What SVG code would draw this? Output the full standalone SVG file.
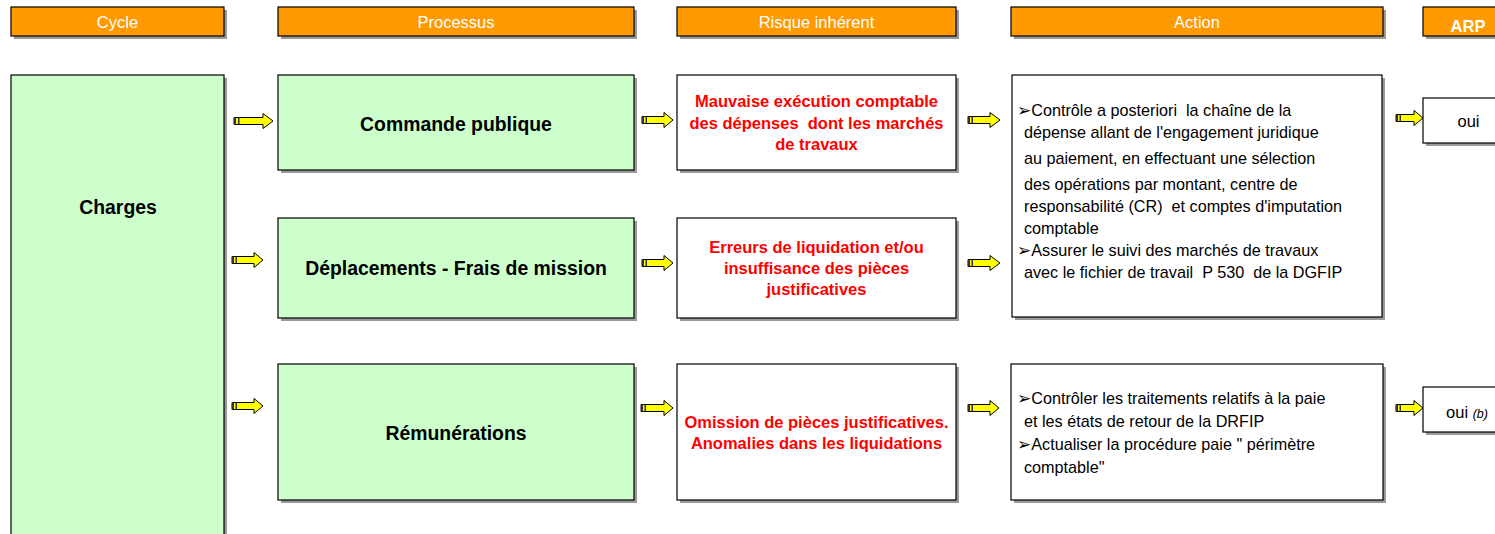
<svg xmlns="http://www.w3.org/2000/svg" width="1495" height="534" viewBox="0 0 1495 534">
<defs>
<style>
.sh{fill:#9a9a9a}
.hdr{fill:#FF9900;stroke:#000;stroke-width:1.2}
.grn{fill:#CCFFCC;stroke:#000;stroke-width:1.2}
.wht{fill:#FFFFFF;stroke:#000;stroke-width:1.2}
.ht{font-family:"Liberation Sans",Arial,sans-serif;font-size:16.5px;fill:#FFFFFF;text-anchor:middle}
.pt{font-family:"Liberation Sans",Arial,sans-serif;font-size:19.4px;font-weight:bold;fill:#000;text-anchor:middle}
.rt{font-family:"Liberation Sans",Arial,sans-serif;font-size:16.5px;font-weight:bold;fill:#FF0000;text-anchor:middle}
.at{font-family:"Liberation Sans","DejaVu Sans",Arial,sans-serif;font-size:16.2px;fill:#000}
.bl{font-family:"DejaVu Sans",sans-serif;font-size:17px}
.ot{font-family:"Liberation Sans",Arial,sans-serif;font-size:16.5px;fill:#000;text-anchor:middle}
.arr{fill:#FFFF00;stroke:#000;stroke-width:1}
.tail{fill:#333}
</style>
</defs>

<g id="header-cycle">
<rect class="sh" x="14" y="10" width="213" height="29"/>
<rect class="hdr" x="11" y="7" width="213" height="29"/>
<text class="ht" x="117.5" y="28">Cycle</text>
</g>
<g id="header-processus">
<rect class="sh" x="281" y="10" width="356" height="29"/>
<rect class="hdr" x="278" y="7" width="356" height="29"/>
<text class="ht" x="456" y="28">Processus</text>
</g>
<g id="header-risque">
<rect class="sh" x="680" y="10" width="279" height="29"/>
<rect class="hdr" x="677" y="7" width="279" height="29"/>
<text class="ht" x="816.5" y="28">Risque inhérent</text>
</g>
<g id="header-action">
<rect class="sh" x="1014" y="10" width="372" height="29"/>
<rect class="hdr" x="1011" y="7" width="372" height="29"/>
<text class="ht" x="1197" y="28">Action</text>
</g>
<g id="header-arp">
<rect class="sh" x="1426" y="10" width="100" height="29"/>
<rect class="hdr" x="1423" y="7" width="100" height="29"/>
<text class="ht" x="1468" y="32" font-weight="bold" font-size="15px">ARP</text>
</g>

<g id="node-charges">
<rect class="sh" x="14" y="78" width="213" height="470"/>
<rect class="grn" x="11" y="75" width="213" height="470"/>
<text class="pt" x="118" y="214">Charges</text>
</g>

<g id="node-commande">
<rect class="sh" x="281" y="78" width="356" height="95"/>
<rect class="grn" x="278" y="75" width="356" height="95"/>
<text class="pt" x="456" y="131">Commande publique</text>
</g>
<g id="node-deplacements">
<rect class="sh" x="281" y="221" width="356" height="100"/>
<rect class="grn" x="278" y="218" width="356" height="100"/>
<text class="pt" x="456" y="275">Déplacements - Frais de mission</text>
</g>
<g id="node-remunerations">
<rect class="sh" x="281" y="367" width="356" height="136"/>
<rect class="grn" x="278" y="364" width="356" height="136"/>
<text class="pt" x="456" y="440">Rémunérations</text>
</g>

<g id="risk-1">
<rect class="sh" x="680" y="78" width="279" height="95"/>
<rect class="wht" x="677" y="75" width="279" height="95"/>
<text class="rt" x="816.5" y="107">Mauvaise exécution comptable</text>
<text class="rt" x="816.5" y="128.5" xml:space="preserve">des dépenses  dont les marchés</text>
<text class="rt" x="816.5" y="150">de travaux</text>
</g>
<g id="risk-2">
<rect class="sh" x="680" y="221" width="279" height="100"/>
<rect class="wht" x="677" y="218" width="279" height="100"/>
<text class="rt" x="816.5" y="253">Erreurs de liquidation et/ou</text>
<text class="rt" x="816.5" y="274">insuffisance des pièces</text>
<text class="rt" x="816.5" y="295">justificatives</text>
</g>
<g id="risk-3">
<rect class="sh" x="680" y="367" width="279" height="136"/>
<rect class="wht" x="677" y="364" width="279" height="136"/>
<text class="rt" x="816.5" y="428">Omission de pièces justificatives.</text>
<text class="rt" x="816.5" y="449">Anomalies dans les liquidations</text>
</g>

<g id="action-1">
<rect class="sh" x="1015" y="78" width="370" height="242"/>
<rect class="wht" x="1012" y="75" width="370" height="242"/>
<text class="at" xml:space="preserve" x="1017" y="116"><tspan class="bl">➢</tspan>Contrôle a posteriori  la chaîne de la</text>
<text class="at" x="1024" y="138">dépense allant de l'engagement juridique</text>
<text class="at" x="1024" y="164">au paiement, en effectuant une sélection</text>
<text class="at" x="1024" y="190">des opérations par montant, centre de</text>
<text class="at" xml:space="preserve" x="1024" y="212">responsabilité (CR)  et comptes d'imputation</text>
<text class="at" x="1024" y="234">comptable</text>
<text class="at" x="1017" y="256"><tspan class="bl">➢</tspan>Assurer le suivi des marchés de travaux</text>
<text class="at" xml:space="preserve" x="1024" y="278">avec le fichier de travail  P 530  de la DGFIP</text>
</g>
<g id="action-2">
<rect class="sh" x="1014" y="367" width="372" height="136"/>
<rect class="wht" x="1011" y="364" width="372" height="136"/>
<text class="at" x="1017" y="404"><tspan class="bl">➢</tspan>Contrôler les traitements relatifs à la paie</text>
<text class="at" x="1024" y="427">et les états de retour de la DRFIP</text>
<text class="at" x="1017" y="450"><tspan class="bl">➢</tspan>Actualiser la procédure paie " périmètre</text>
<text class="at" x="1024" y="473">comptable"</text>
</g>

<g id="arp-1">
<rect class="sh" x="1426" y="101" width="100" height="45"/>
<rect class="wht" x="1423" y="98" width="100" height="45"/>
<text class="ot" x="1468.5" y="127">oui</text>
</g>
<g id="arp-2">
<rect class="sh" x="1426" y="390" width="100" height="45"/>
<rect class="wht" x="1423" y="387" width="100" height="45"/>
<text class="ot" x="1467" y="418">oui <tspan font-style="italic" font-size="12.5px">(b)</tspan></text>
</g>

<g id="connectors">
<path class="arr" d="M234,117.5 H263 V113.5 L273,121 L263,128.5 V124.5 H234 Z"/>
<rect class="tail" x="234" y="117.5" width="2" height="7"/><rect class="tail" x="238" y="117.5" width="1.5" height="7"/>

<path class="arr" d="M232,256.5 H254 V252.5 L263,260 L254,267.5 V263.5 H232 Z"/>
<rect class="tail" x="232" y="256.5" width="2" height="7"/><rect class="tail" x="235.5" y="256.5" width="1.5" height="7"/>

<path class="arr" d="M232,402.5 H254 V398.5 L263,406 L254,413.5 V409.5 H232 Z"/>
<rect class="tail" x="232" y="402.5" width="2" height="7"/><rect class="tail" x="235.5" y="402.5" width="1.5" height="7"/>

<path class="arr" d="M642,116.5 H664 V112.5 L673,120 L664,127.5 V123.5 H642 Z"/>
<rect class="tail" x="642" y="116.5" width="2" height="7"/><rect class="tail" x="645.5" y="116.5" width="1.5" height="7"/>

<path class="arr" d="M642,259.5 H664 V255.5 L673,263 L664,270.5 V266.5 H642 Z"/>
<rect class="tail" x="642" y="259.5" width="2" height="7"/><rect class="tail" x="645.5" y="259.5" width="1.5" height="7"/>

<path class="arr" d="M641,404.5 H664 V400.5 L673,408 L664,415.5 V411.5 H641 Z"/>
<rect class="tail" x="641" y="404.5" width="2" height="7"/><rect class="tail" x="644.5" y="404.5" width="1.5" height="7"/>

<path class="arr" d="M968,116.5 H990 V112.5 L1000,120 L990,127.5 V123.5 H968 Z"/>
<rect class="tail" x="968" y="116.5" width="2" height="7"/><rect class="tail" x="971.5" y="116.5" width="1.5" height="7"/>

<path class="arr" d="M968,259.5 H990 V255.5 L1000,263 L990,270.5 V266.5 H968 Z"/>
<rect class="tail" x="968" y="259.5" width="2" height="7"/><rect class="tail" x="971.5" y="259.5" width="1.5" height="7"/>

<path class="arr" d="M968,404.5 H990 V400.5 L999,408 L990,415.5 V411.5 H968 Z"/>
<rect class="tail" x="968" y="404.5" width="2" height="7"/><rect class="tail" x="971.5" y="404.5" width="1.5" height="7"/>

<path class="arr" d="M1396,114.5 H1414 V110.5 L1423,118 L1414,125.5 V121.5 H1396 Z"/>
<rect class="tail" x="1396" y="114.5" width="2" height="7"/><rect class="tail" x="1399.5" y="114.5" width="1.5" height="7"/>

<path class="arr" d="M1396,404.5 H1414 V400.5 L1423,408 L1414,415.5 V411.5 H1396 Z"/>
<rect class="tail" x="1396" y="404.5" width="2" height="7"/><rect class="tail" x="1399.5" y="404.5" width="1.5" height="7"/>
</g>
</svg>
